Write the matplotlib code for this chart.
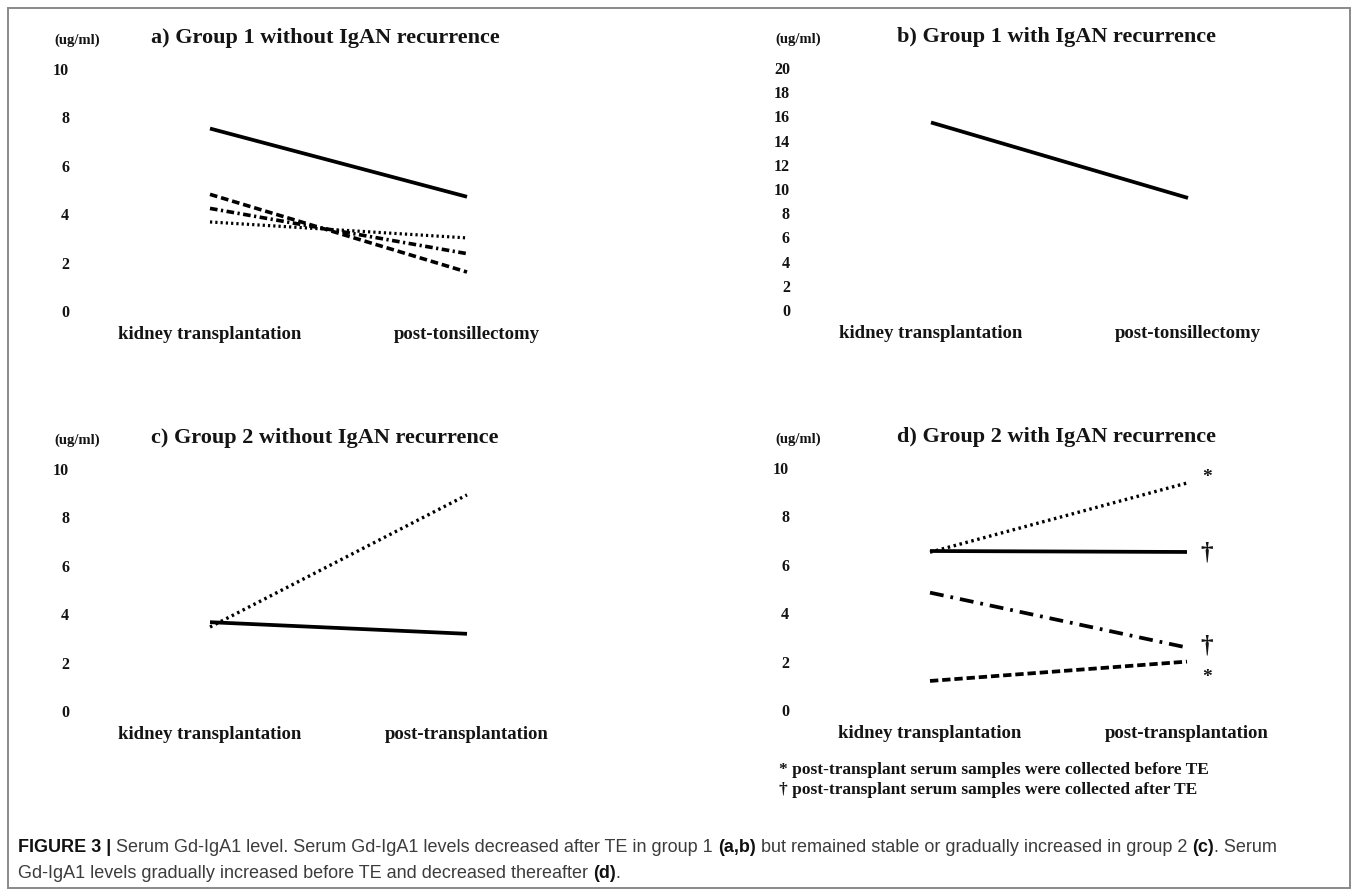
import matplotlib
matplotlib.use("Agg")
import matplotlib.pyplot as plt
from matplotlib.patches import Rectangle

plt.rcParams["lines.scale_dashes"] = False
plt.rcParams["font.family"] = ["Liberation Serif", "DejaVu Serif"]
plt.rcParams["font.weight"] = "bold"

# ---- data -------------------------------------------------------------
cats_tonsil = ["kidney transplantation", "post-tonsillectomy"]
cats_tx = ["kidney transplantation", "post-transplantation"]

# a) Group 1 without IgAN recurrence (ug/ml)
a_solid = [7.54, 4.72]
a_dashed = [4.82, 1.61]
a_dashdot = [4.24, 2.37]
a_dotted = [3.68, 3.02]

# b) Group 1 with IgAN recurrence
b_solid = [15.5, 9.26]

# c) Group 2 without IgAN recurrence
c_solid = [3.67, 3.19]
c_dotted = [3.47, 8.93]

# d) Group 2 with IgAN recurrence
d_dotted = [6.52, 9.38]
d_solid = [6.57, 6.53]
d_dashdot = [4.85, 2.58]
d_dashed = [1.20, 2.00]
d_marks = ["*", "\u2020", "\u2020", "*"]
d_mark_y = [9.60, 6.48, 2.66, 1.36]

footnotes = ["* post-transplant serum samples were collected before TE",
             "\u2020 post-transplant serum samples were collected after TE"]

caption_runs_1 = [("FIGURE 3 |", True),
                  ("Serum Gd-IgA1 level. Serum Gd-IgA1 levels decreased after TE in group 1", False),
                  ("(a,b)", True),
                  ("but remained stable or gradually increased in group 2", False),
                  ("(c)", True),
                  (". Serum", False)]
caption_runs_2 = [("Gd-IgA1 levels gradually increased before TE and decreased thereafter", False),
                  ("(d)", True),
                  (".", False)]

# ---- figure -----------------------------------------------------------
W, H = 1358, 893
fig = plt.figure(figsize=(W / 100, H / 100), dpi=100)
fig.patch.set_facecolor("white")
INK = "#141414"

def fx(px):
    return px / W

def fy(py):
    return 1 - py / H

# outer frame
fig.patches.append(Rectangle((fx(8), fy(888)), fx(1350) - fx(8), fy(8) - fy(888),
                             transform=fig.transFigure, fill=False,
                             edgecolor="#8a8a8a", linewidth=1.4))

def make_panel(x0, x1, ybot, ytop, ymax, cats, title, title_x, unit_x):
    ax = fig.add_axes([fx(x0), fy(ybot), (x1 - x0) / W, (ybot - ytop) / H])
    ax.set_xlim(0, 1)
    ax.set_ylim(0, ymax)
    ax.patch.set_visible(False)
    for s in ax.spines.values():
        s.set_visible(False)
    ax.set_yticks(range(0, ymax + 1, 2))
    ax.tick_params(axis="y", length=0, pad=141 * 0.72, labelsize=11.5, labelcolor=INK)
    ax.set_xticks([0, 1], cats)
    ax.tick_params(axis="x", length=0, pad=10.5, labelsize=13.5, labelcolor=INK)
    ty = ytop - 31
    fig.text(fx(title_x), fy(ty), title, ha="left", va="center", fontsize=16, color=INK)
    fig.text(fx(unit_x), fy(ty + 2), "(ug/ml)", ha="center", va="center", fontsize=10.5, color=INK)
    return ax

def line(ax, vals, ls, lw=2.4):
    ax.plot([0, 1], vals, color="black", linestyle=ls, linewidth=lw,
            solid_capstyle="butt", dash_capstyle="butt", clip_on=False)

# a
ax_a = make_panel(210, 467, 311, 69, 10, cats_tonsil,
                  "a) Group 1 without IgAN recurrence", 151, 77)
line(ax_a, a_solid, "-", 2.7)
line(ax_a, a_dashed, (0, (5.5, 2.8)), 2.6)
line(ax_a, a_dashdot, (0, (5.5, 2.5, 1.6, 2.5)), 2.6)
line(ax_a, a_dotted, (0, (1.6, 2.2)), 2.3)

# b
ax_b = make_panel(931, 1188, 310, 68, 20, cats_tonsil,
                  "b) Group 1 with IgAN recurrence", 897, 798)
line(ax_b, b_solid, "-", 2.7)

# c
ax_c = make_panel(210, 467, 711, 469, 10, cats_tx,
                  "c) Group 2 without IgAN recurrence", 151, 77)
line(ax_c, c_solid, "-", 2.7)
line(ax_c, c_dotted, (0, (1.8, 2.6)), 2.4)

# d
ax_d = make_panel(930, 1187, 710, 468, 10, cats_tx,
                  "d) Group 2 with IgAN recurrence", 897, 798)
line(ax_d, d_dotted, (0, (1.8, 2.6)), 2.4)
line(ax_d, d_solid, "-", 2.7)
line(ax_d, d_dashdot, (0, (10, 5, 2, 5)), 2.7)
line(ax_d, d_dashed, (0, (6, 2.8)), 2.7)
for m, yv in zip(d_marks, d_mark_y):
    ax_d.text(1.078, yv, m, ha="center", va="center",
              fontsize=18 if m != "*" else 14, color=INK, clip_on=False)

for i, t in enumerate(footnotes):
    fig.text(fx(779), fy(770 + 20 * i), t, ha="left", va="center", fontsize=12.5, color=INK)

# ---- caption ------------------------------------------------------------
CAP_FAMILY = ["Liberation Sans Narrow", "Liberation Sans", "DejaVu Sans"]
CAP_SIZE = 13
renderer = fig.canvas.get_renderer()

def text_width(s, bold):
    t = fig.text(0, 0, s, fontsize=CAP_SIZE, family=CAP_FAMILY,
                 fontweight="bold" if bold else "normal")
    w = t.get_window_extent(renderer).width
    t.remove()
    return w

space_w = text_width("a a", False) - text_width("aa", False)

def caption_line(runs, x_px, y_px):
    x = x_px
    for k, (s, bold) in enumerate(runs):
        if k > 0 and not s.startswith((".", ",")):
            x += space_w
        t = fig.text(fx(x), fy(y_px), s, ha="left", va="center", fontsize=CAP_SIZE,
                     family=CAP_FAMILY, fontweight="bold" if bold else "normal",
                     color="#111111" if bold else "#3c3c3c")
        x += t.get_window_extent(renderer).width

caption_line(caption_runs_1, 18, 848)
caption_line(caption_runs_2, 18, 873)

fig.savefig("out.png", dpi=100, facecolor="white")
